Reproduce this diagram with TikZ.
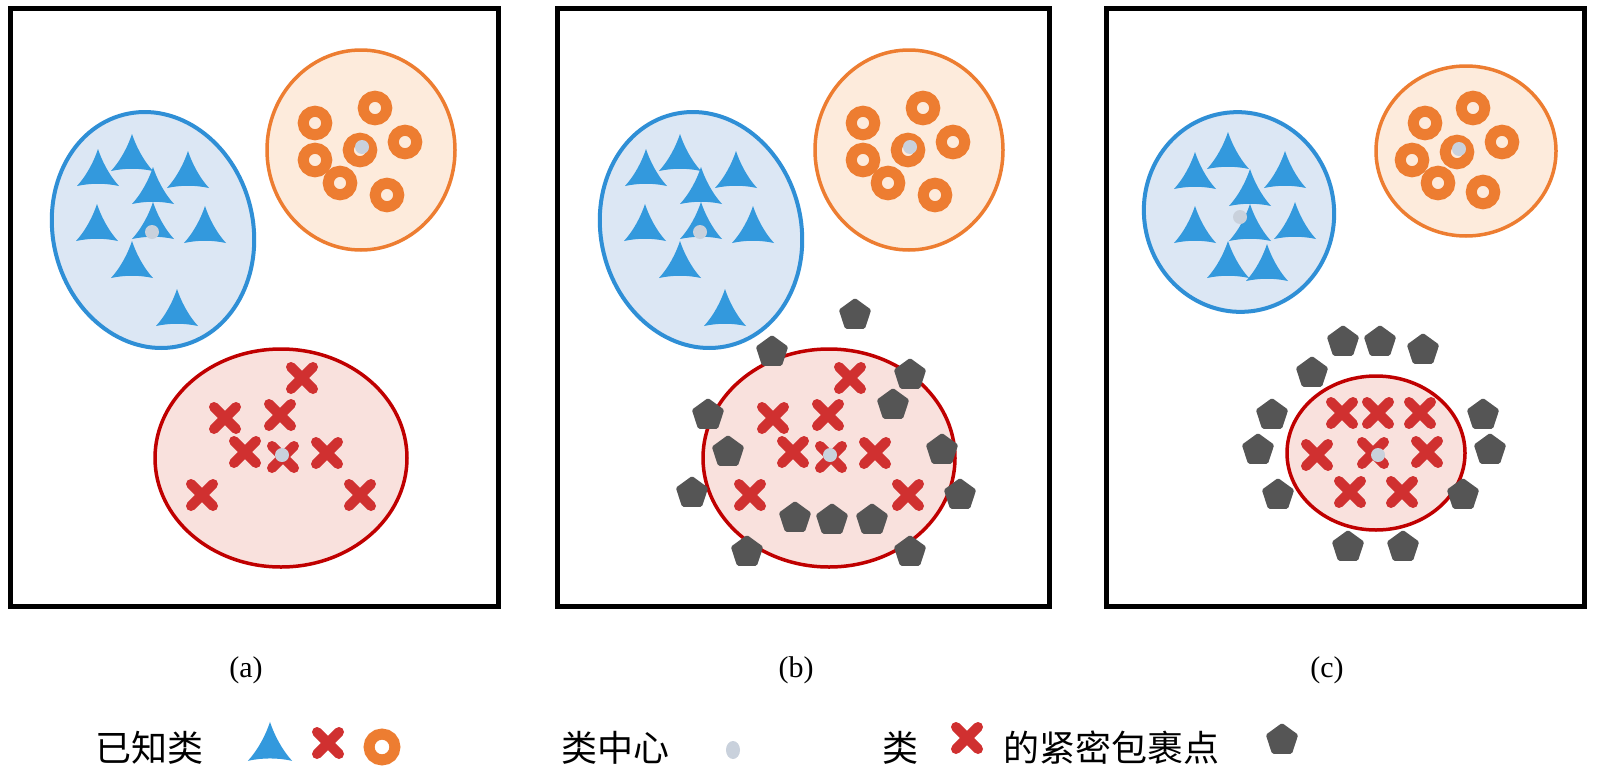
\documentclass[tikz,border=0pt]{standalone}
\usepackage{fontspec}
\setmainfont{Liberation Serif}
\newfontfamily\cjk{Noto Sans CJK SC}
\definecolor{blueE}{HTML}{2F8FD6}
\definecolor{blueF}{HTML}{DCE7F4}
\definecolor{triC}{HTML}{3399DD}
\definecolor{orgE}{HTML}{ED7D31}
\definecolor{orgF}{HTML}{FDEBDC}
\definecolor{redE}{HTML}{C00000}
\definecolor{redF}{HTML}{F9E1DD}
\definecolor{xC}{HTML}{D03030}
\definecolor{pentC}{HTML}{555555}
\definecolor{dotC}{HTML}{C9D1DC}
\tikzset{
  frame/.style={draw=black, line width=5pt},
  blueell/.style={draw=blueE, fill=blueF, line width=4pt},
  orgell/.style={draw=orgE, fill=orgF, line width=3.5pt},
  redell/.style={draw=redE, fill=redF, line width=3.5pt},
  lab/.style={font=\fontsize{30}{36}\selectfont, inner sep=0pt},
  leg/.style={font=\cjk\fontsize{36}{40}\selectfont, inner sep=0pt, anchor=west},
  tri/.pic={\fill[triC] (0,-21) .. controls (-4,-9) and (-11,5) .. (-21,16) .. controls (-7,13) and (7,13) .. (21,16) .. controls (11,5) and (4,-9) .. (0,-21) -- cycle;},
  ring/.pic={\draw[orgE, line width=11pt] (0,0) circle[radius=11.75];},
  xmark/.pic={\draw[xC, line width=10pt, line cap=round] (-11,-11) -- (11,11) (-11,11) -- (11,-11);},
  penta/.pic={\fill[pentC, rounded corners=1.5pt] (0,-17) -- (16.2,-5.25) -- (10,13.75) -- (-10,13.75) -- (-16.2,-5.25) -- cycle;},
  cdot/.pic={\fill[dotC] (0,0) circle[radius=7];}
}
\begin{document}
\begin{tikzpicture}[x=1pt,y=-1pt]
\useasboundingbox (0,0) rectangle (1600,771);
\fill[white] (0,0) rectangle (1600,771);

% ---------- panels (a) and (b): same clusters, shifted ----------
\foreach \dx in {0,548} {
  \begin{scope}[xshift=\dx pt]
    \draw[blueell, rotate around={14:(153,230)}] (153,230) ellipse [x radius=100, y radius=119];
    \draw[orgell] (361,150) ellipse [x radius=94, y radius=100];
    \draw[redell] (281,458) ellipse [x radius=126, y radius=109];
    \foreach \p in {(98,170),(132,155),(188,172),(153,188),(97,225),(153,223),(205,227),(132,262),(177,310)}
      \pic at \p {tri};
    \foreach \p in {(315,123),(375,108),(405,142),(360,150),(315,160),(340,183),(387,195)}
      \pic at \p {ring};
    \foreach \p in {(302,378),(225,418),(280,415),(245,452),(283,457),(327,453),(202,495),(360,495)}
      \pic at \p {xmark};
    \pic at (152,232) {cdot};
    \pic at (362,147) {cdot};
    \pic at (282,455) {cdot};
  \end{scope}
}
% pentagons of panel (b)
\foreach \p in {(855,315),(772,352),(910,375),(893,405),(708,415),(728,452),(942,450),(692,493),(960,495),(795,518),(832,520),(872,520),(747,552),(910,552)}
  \pic at \p {penta};

% ---------- panel (c) ----------
\draw[blueell, rotate around={10:(1239,212)}] (1239,212) ellipse [x radius=95, y radius=100];
\draw[orgell] (1466,151) ellipse [x radius=90, y radius=85];
\draw[redell] (1376,453) ellipse [x radius=89, y radius=77];
\foreach \p in {(1195,173),(1228,153),(1285,172),(1250,190),(1195,227),(1250,225),(1295,223),(1228,262),(1267,265)}
  \pic at \p {tri};
\foreach \p in {(1425,123),(1473,108),(1502,142),(1457,152),(1412,160),(1438,183),(1483,192)}
  \pic at \p {ring};
\foreach \p in {(1342,413),(1378,413),(1420,413),(1317,455),(1373,453),(1427,452),(1350,492),(1402,492)}
  \pic at \p {xmark};
\foreach \p in {(1343,342),(1380,342),(1423,350),(1312,373),(1272,415),(1258,450),(1278,495),(1483,415),(1490,450),(1463,495),(1348,547),(1403,547)}
  \pic at \p {penta};
\pic at (1240,217) {cdot};
\pic at (1459,149) {cdot};
\pic at (1378,455) {cdot};

% ---------- frames ----------
\draw[frame] (10,8) rectangle (498,606);
\draw[frame] (557,8) rectangle (1049,606);
\draw[frame] (1106,8) rectangle (1584,606);

% ---------- labels ----------
\node[lab] (la) at (246,670) {(a)};
\node[lab] (lb) at (796,670) {(b)};
\node[lab] (lc) at (1327,670) {(c)};

% ---------- legend ----------
\node[leg] (t1) at (95,748) {已知类};
\pic[scale=1.05] at (270,744) {tri};
\pic at (328,743) {xmark};
\pic[scale=1.1] at (382,747) {ring};
\node[leg] (t2) at (561,748) {类中心};
\fill[dotC] (733,750) ellipse [x radius=7, y radius=9];
\node[leg] (t3) at (882,748) {类};
\pic at (967,738) {xmark};
\node[leg] (t4) at (1003,748) {的紧密包裹点};
\pic at (1282,740) {penta};
\end{tikzpicture}
\end{document}
